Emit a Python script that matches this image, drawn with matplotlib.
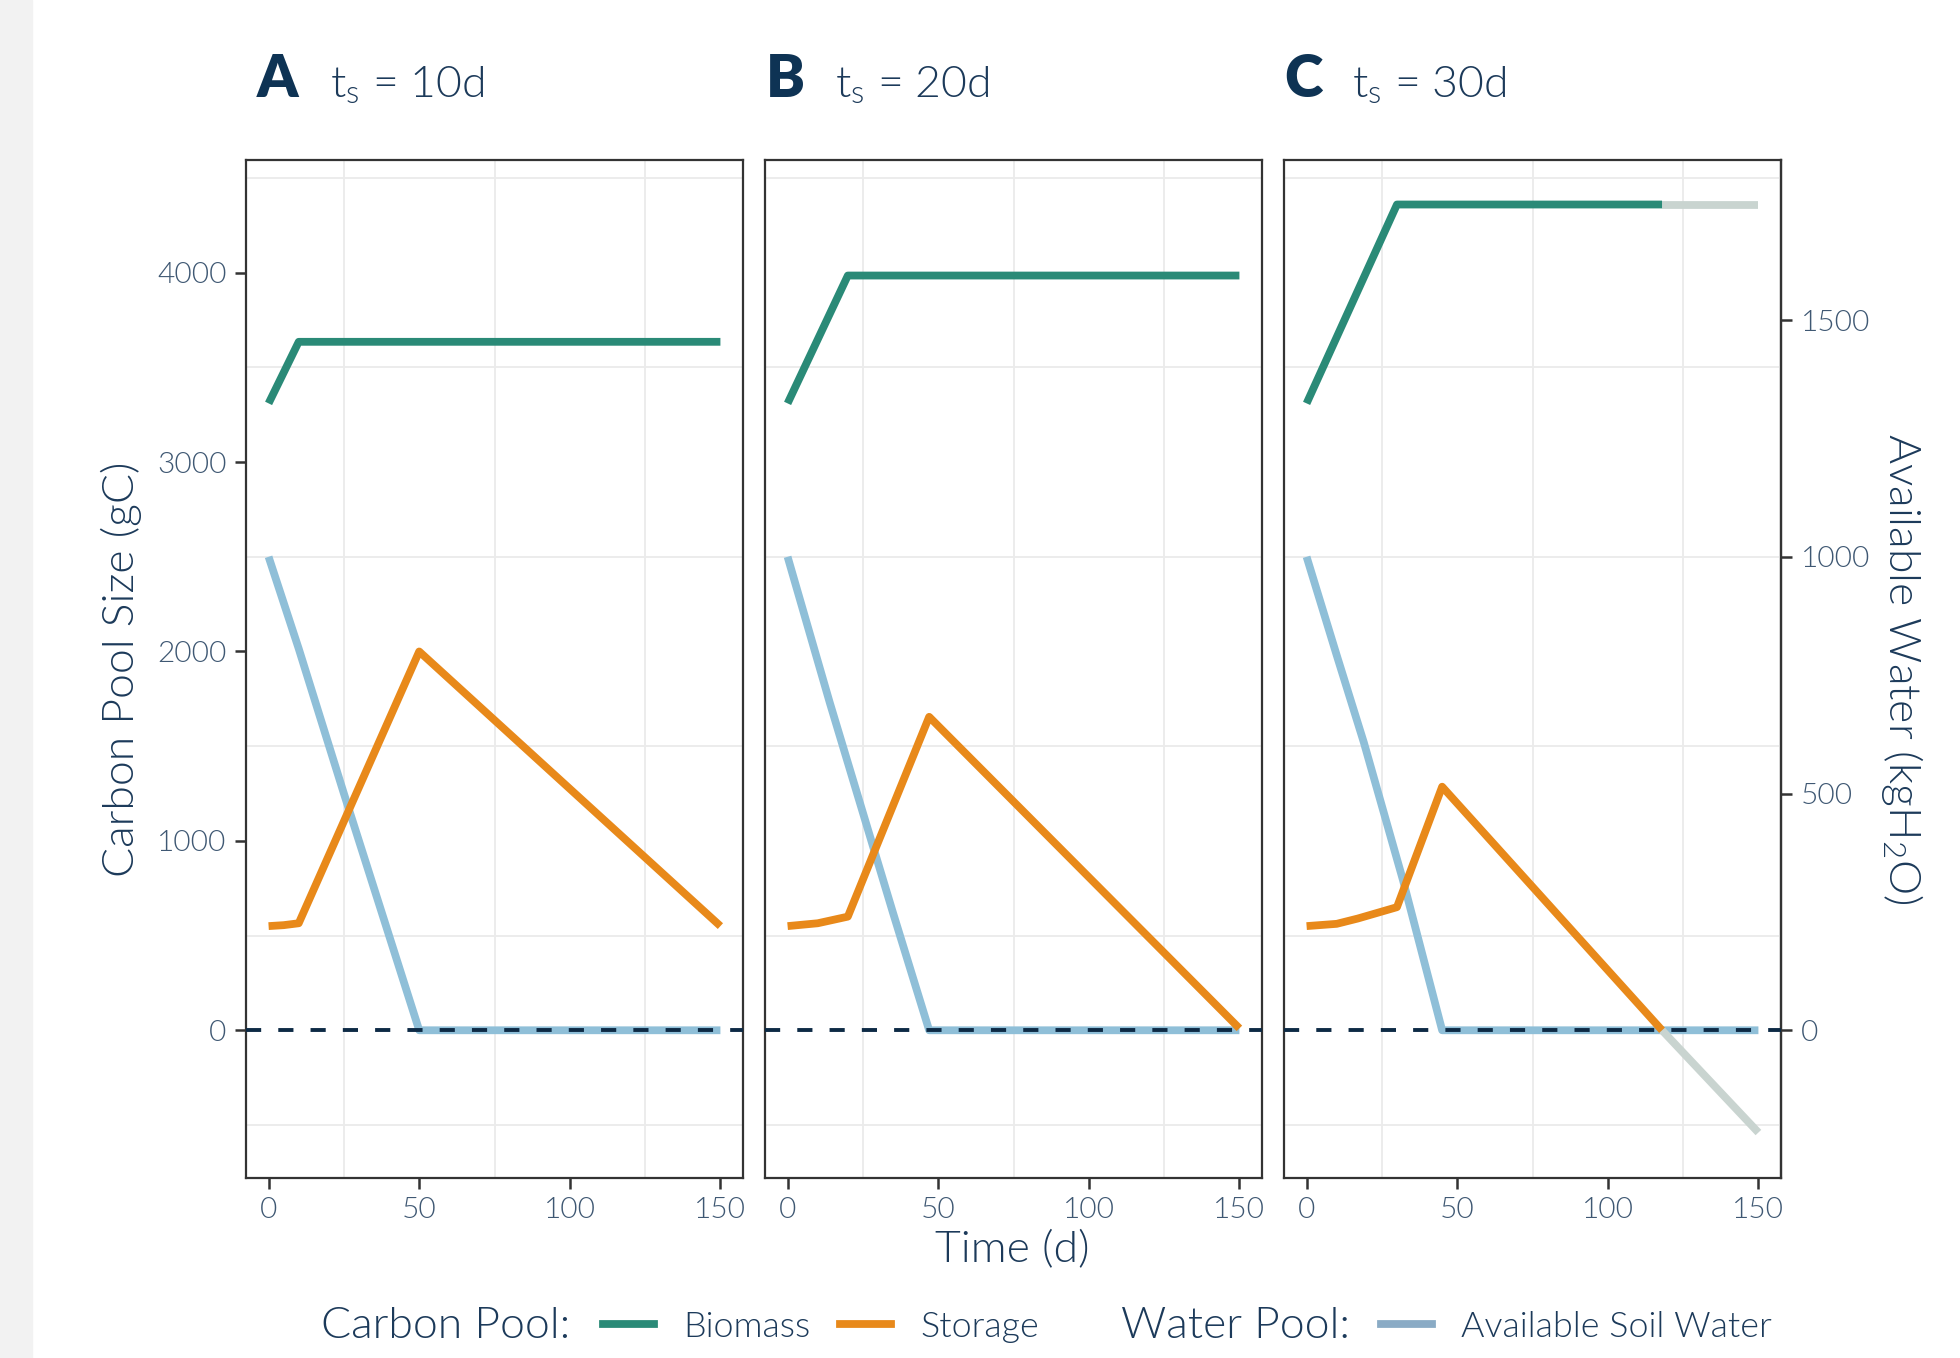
import os
import dataclasses
import matplotlib
matplotlib.use("Agg")
import matplotlib.pyplot as plt
from matplotlib import font_manager as fm
from matplotlib.lines import Line2D
from matplotlib.patches import Rectangle

# --- register Lato Light explicitly under its own family name ---
FAM = "Lato"
_light = [f for f in fm.fontManager.ttflist
          if os.path.basename(f.fname).lower() in ("lato-light.ttf", "lato-light.otf")]
if _light:
    fm.fontManager.ttflist.append(dataclasses.replace(_light[0], name="LatoLightX"))
    FAM = "LatoLightX"

plt.rcParams['font.family'] = [FAM, 'DejaVu Sans']
plt.rcParams['font.weight'] = 'normal'
plt.rcParams['axes.labelweight'] = 'normal'
plt.rcParams['mathtext.fontset'] = 'custom'
plt.rcParams['mathtext.rm'] = FAM
plt.rcParams['mathtext.it'] = FAM

# ---------------- data ----------------
panel_letters = ["A", "B", "C"]
panel_ts = ["10d", "20d", "30d"]

x_ticks = [0, 50, 100, 150]
y_ticks = [0, 1000, 2000, 3000, 4000]
water_ticks = [0, 500, 1000, 1500]

# Panel A (ts = 10d)
bio_t_A = [0, 10, 150]
bio_A = [3310, 3635, 3635]
sto_t_A = [0, 5, 10, 50, 150]
sto_A = [550, 555, 565, 2000, 550]
wat_t_A = [0, 10, 25, 50, 150]
wat_A = [1000, 806, 500, 0, 0]

# Panel B (ts = 20d)
bio_t_B = [0, 20, 150]
bio_B = [3310, 3985, 3985]
sto_t_B = [0, 10, 20, 47, 150]
sto_B = [550, 565, 600, 1655, 10]
wat_t_B = [0, 14, 35, 47, 150]
wat_B = [1000, 692, 248, 0, 0]

# Panel C (ts = 30d) -- green/orange until storage is exhausted, grey after
bio_t_C = [0, 30, 118]
bio_C = [3310, 4360, 4360]
bio_dead_t_C = [118, 150]
bio_dead_C = [4360, 4360]
sto_t_C = [0, 10, 17, 30, 45, 118]
sto_C = [550, 562, 590, 650, 1286, 0]
sto_dead_t_C = [118, 150]
sto_dead_C = [0, -540]
wat_t_C = [0, 10, 19, 32, 45, 150]
wat_C = [1000, 792, 608, 317, 0, 0]

bio_t = [bio_t_A, bio_t_B, bio_t_C]
bio = [bio_A, bio_B, bio_C]
sto_t = [sto_t_A, sto_t_B, sto_t_C]
sto = [sto_A, sto_B, sto_C]
wat_t = [wat_t_A, wat_t_B, wat_t_C]
wat = [wat_A, wat_B, wat_C]

WATER_TO_CARBON = 2.5  # secondary-axis scaling (1000 kgH2O <-> 2500 gC)

# ---------------- style ----------------
C_BIO = "#2a8a77"
C_STO = "#e8891a"
C_WAT = "#8fbfd8"
C_WAT_KEY = "#8aabc5"
C_DEAD = "#c9d4d0"
C_TICKLAB = "#3f5873"
C_TITLE = "#1c3a5a"
C_LETTER = "#0e3354"
C_SPINE = "#333333"

W, H = 1960, 1358
fig = plt.figure(figsize=(W / 100, H / 100), dpi=100)
fig.patch.set_facecolor("white")
fig.patches.append(Rectangle((0, 0), 32 / W, 1, transform=fig.transFigure,
                             color="#f2f2f2", zorder=-10))

panel_left = [246, 765, 1284]
panel_w = 497
panel_top, panel_bot = 160, 1178
letter_x = [257, 766, 1284]
ts_x = [330, 835, 1352]

LW = 5.6
for i in range(3):
    ax = fig.add_axes([panel_left[i] / W, (H - panel_bot) / H,
                       panel_w / W, (panel_bot - panel_top) / H])
    ax.set_xlim(-7.5, 157.5)
    ax.set_ylim(-780, 4595)
    ax.set_xticks(x_ticks)
    ax.set_xticks([25, 75, 125], minor=True)
    ax.set_yticks(y_ticks)
    ax.set_yticks([-500, 500, 1500, 2500, 3500, 4500], minor=True)
    ax.grid(which="minor", color="#ebebeb", lw=1.3)
    ax.grid(which="major", visible=False)
    ax.set_axisbelow(True)
    ax.tick_params(which="minor", length=0)
    ax.tick_params(which="major", length=8, width=1.8, color=C_SPINE,
                   labelsize=21.5, labelcolor=C_TICKLAB, pad=6)
    if i > 0:
        ax.tick_params(axis="y", left=False, labelleft=False)
    for s in ax.spines.values():
        s.set_color(C_SPINE)
        s.set_linewidth(1.6)

    # water (in carbon scale)
    ax.plot(wat_t[i], [w * WATER_TO_CARBON for w in wat[i]], color=C_WAT,
            lw=LW, solid_capstyle="butt", solid_joinstyle="round", zorder=3)
    ax.plot(sto_t[i], sto[i], color=C_STO, lw=LW, solid_capstyle="butt",
            solid_joinstyle="round", zorder=4)
    ax.plot(bio_t[i], bio[i], color=C_BIO, lw=LW, solid_capstyle="butt",
            solid_joinstyle="round", zorder=4)
    if i == 2:
        ax.plot(bio_dead_t_C, bio_dead_C, color=C_DEAD, lw=LW,
                solid_capstyle="butt", zorder=3.5)
        ax.plot(sto_dead_t_C, sto_dead_C, color=C_DEAD, lw=LW,
                solid_capstyle="butt", zorder=3.5)
        sec = ax.secondary_yaxis("right",
                                 functions=(lambda y: y / WATER_TO_CARBON,
                                            lambda w: w * WATER_TO_CARBON))
        sec.set_yticks(water_ticks)
        sec.tick_params(length=8, width=1.8, color=C_SPINE, labelsize=21.5,
                        labelcolor=C_TICKLAB, pad=6)
        sec.spines["right"].set_color(C_SPINE)
        sec.spines["right"].set_linewidth(1.6)
        sec.set_ylabel("Available Water (kgH$_\\mathrm{2}$O)", fontsize=32,
                       color=C_TITLE, rotation=270, labelpad=40)
    ax.axhline(0, color="#0d2a45", lw=2.8, dashes=(3.9, 4.4), zorder=5)

    fig.text(letter_x[i] / W, (H - 97) / H, panel_letters[i], fontsize=42,
             fontweight="heavy", color=C_LETTER, va="baseline", ha="left",
             family=["Lato", "DejaVu Sans"])
    fig.text(ts_x[i] / W, (H - 97) / H, "$\\mathrm{t_s}$ = " + panel_ts[i],
             fontsize=32, color=C_TITLE, va="baseline", ha="left")

fig.text(121 / W, (H - 669) / H, "Carbon Pool Size (gC)", rotation=90,
         fontsize=32, color=C_TITLE, ha="center", va="center")
fig.text(1012 / W, (H - 1250) / H, "Time (d)", fontsize=32, color=C_TITLE,
         ha="center", va="center")

# legend
ly = (H - 1327) / H
fig.text(321 / W, ly, "Carbon Pool:", fontsize=32, color=C_TITLE,
         ha="left", va="center")
fig.text(1121 / W, ly, "Water Pool:", fontsize=32, color=C_TITLE,
         ha="left", va="center")
common = dict(frameon=False, fontsize=25.8, handlelength=1.42,
              handletextpad=0.82, columnspacing=0.82, borderpad=0,
              borderaxespad=0, labelcolor=C_TITLE, loc="center left")
fig.legend(handles=[Line2D([], [], color=C_BIO, lw=LW),
                    Line2D([], [], color=C_STO, lw=LW)],
           labels=["Biomass", "Storage"], ncol=2,
           bbox_to_anchor=(603 / W, ly), **common)
fig.legend(handles=[Line2D([], [], color=C_WAT_KEY, lw=LW)],
           labels=["Available Soil Water"], ncol=1,
           bbox_to_anchor=(1381 / W, ly), **common)

fig.savefig("out.png", dpi=100, facecolor="white")
